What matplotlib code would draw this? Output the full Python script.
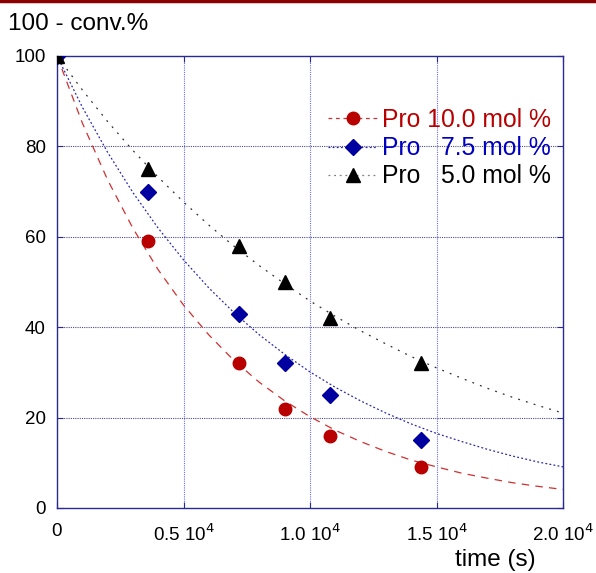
import matplotlib.pyplot as plt
from matplotlib.lines import Line2D

plt.rcParams['font.family'] = ['Liberation Sans', 'DejaVu Sans']

# measured points
t_meas = [0, 3600, 7200, 9000, 10800, 14400]
pro10 = [100, 59, 32, 22, 16, 9]
pro75 = [100, 70, 43, 32, 25, 15]
pro50 = [100, 75, 58, 50, 42, 32]

t_fit = [0, 1000, 2000, 3000, 4000, 5000, 6000, 7000, 8000, 9000, 10000,
         11000, 12000, 13000, 14000, 15000, 16000, 17000, 18000, 19000, 20000]
fit10 = [100, 85.2, 72.6, 61.9, 52.7, 44.9, 38.3, 32.6, 27.8, 23.7, 20.2,
         17.2, 14.7, 12.5, 10.6, 9.1, 7.7, 6.6, 5.6, 4.8, 4.1]
fit75 = [100, 88.7, 78.7, 69.8, 61.9, 54.9, 48.7, 43.2, 38.3, 34.0, 30.1,
         26.7, 23.7, 21.0, 18.6, 16.5, 14.7, 13.0, 11.5, 10.2, 9.1]
fit50 = [100, 92.5, 85.5, 79.1, 73.2, 67.7, 62.6, 57.9, 53.6, 49.6, 45.8,
         42.4, 39.2, 36.3, 33.5, 31.0, 28.7, 26.5, 24.5, 22.7, 21.0]

x_ticks = [0, 5000, 10000, 15000, 20000]
x_labels = ['0', '0.5 10$^4$', '1.0 10$^4$', '1.5 10$^4$', '2.0 10$^4$']
y_ticks = [0, 20, 40, 60, 80, 100]

fig = plt.figure(figsize=(5.96, 5.73), dpi=100)
ax = fig.add_axes([57 / 596, 1 - 508 / 573, 506 / 596, 452 / 573])

# grid
for xv in x_ticks[1:-1]:
    ax.axvline(xv, color='#6c6cf0', lw=0.8, ls=(0, (1, 1)), zorder=1)
for yv in y_ticks[1:-1]:
    ax.axhline(yv, color='#505080', lw=0.8, ls=(0, (1, 1)), zorder=1)

ax.plot(t_fit, fit10, color='#d03030', lw=0.9, ls=(0, (6, 5)), zorder=2)
ax.plot(t_fit, fit75, color='#2a2ab0', lw=0.9, ls=(0, (1.5, 1.8)), zorder=2)
ax.plot(t_fit, fit50, color='#303030', lw=0.9, ls=(0, (1.5, 5)), zorder=2)

ax.plot(t_meas, pro10, 'o', color='#b80000', ms=9, zorder=3)
ax.plot(t_meas, pro75, 'D', color='#0000a0', ms=8, zorder=3)
ax.plot(t_meas, pro50, '^', color='black', ms=9.5, zorder=4)

ax.set_xlim(0, 20000)
ax.set_ylim(0, 100)
ax.set_xticks(x_ticks)
ax.set_xticklabels(x_labels)
ax.set_yticks(y_ticks)
ax.tick_params(direction='in', length=4, color='#2a2a90', labelsize=13.5, pad=8,
               top=True, right=True)
ax.tick_params(axis='x', pad=11)
for s in ax.spines.values():
    s.set_color('#2a2a90')
    s.set_linewidth(1.0)

fig.text(8 / 596, 1 - 24 / 573, '100 - conv.%', fontsize=17.5, va='center', ha='left')
fig.text(455 / 596, 1 - 571 / 573, 'time (s)', fontsize=17.5, va='bottom', ha='left')

handles = [
    Line2D([], [], color='#d03030', lw=0.9, ls=(0, (3, 3)), marker='o',
           mfc='#b80000', mec='#b80000', ms=9),
    Line2D([], [], color='#2a2ab0', lw=0.9, ls=(0, (1.5, 1.8)), marker='D',
           mfc='#0000a0', mec='#0000a0', ms=8),
    Line2D([], [], color='#808080', lw=0.9, ls=(0, (1.5, 3)), marker='^',
           mfc='black', mec='black', ms=9.5),
]
labels = ['Pro 10.0 mol %', 'Pro   7.5 mol %', 'Pro   5.0 mol %']
leg = fig.legend(handles, labels, loc='upper left',
                 bbox_to_anchor=(328 / 596, 1 - 108 / 573),
                 frameon=False, fontsize=17.8, handlelength=2.0, handletextpad=0.18,
                 labelspacing=0.17, borderpad=0, borderaxespad=0)
for txt, c in zip(leg.get_texts(), ['#b80000', '#0000c0', 'black']):
    txt.set_color(c)

# dark red rule at top of the figure
fig.add_artist(Line2D([0, 1], [0.998, 0.998], color='#8b0000', lw=2.5,
                      transform=fig.transFigure))

fig.savefig('out.png', dpi=100)
